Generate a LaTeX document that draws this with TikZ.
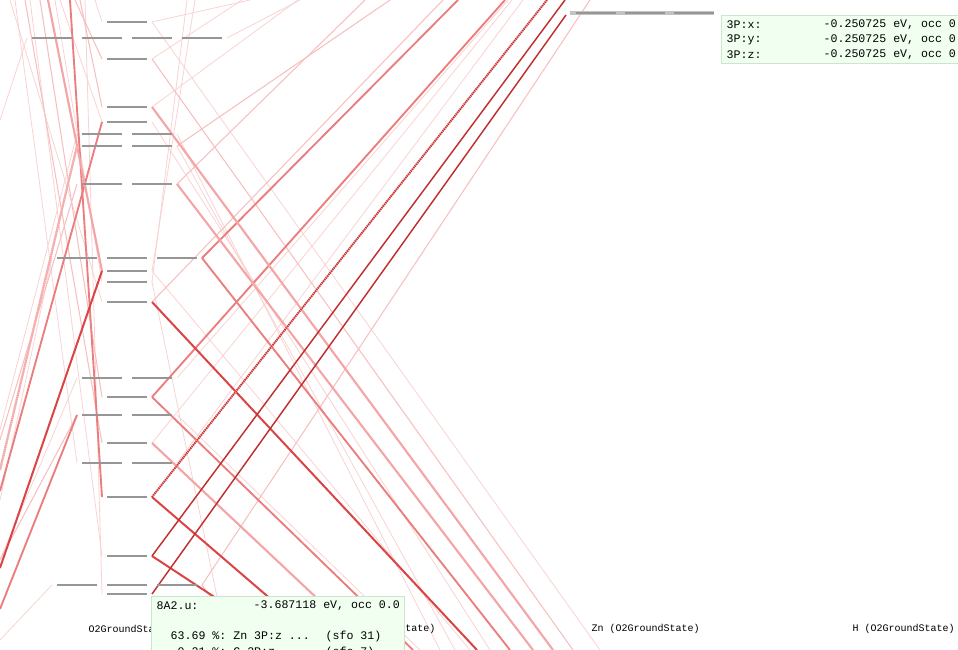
\documentclass[tikz,border=0pt]{standalone}
\usepackage[dvipsnames]{xcolor}
\usepackage{fontspec}
\setmonofont{Liberation Mono}
\usepackage{tikz}

\definecolor{lvgray}{RGB}{150,150,150}
\definecolor{lvsel}{RGB}{195,195,195}
\definecolor{tipfill}{RGB}{240,255,240}
\definecolor{tipedge}{RGB}{205,228,205}
\definecolor{lnstrong}{RGB}{218,68,68}
\definecolor{lndark}{RGB}{192,48,48}
\definecolor{lnmid}{RGB}{236,125,125}
\definecolor{lnpink}{RGB}{244,165,165}
\definecolor{lnlight}{RGB}{247,192,192}
\definecolor{lnfaint}{RGB}{249,210,210}

\begin{document}
\begin{tikzpicture}[x=0.75pt, y=-0.75pt, line width=1pt,
    level/.style={draw=lvgray, line width=1.5pt},
    cstrong/.style={draw=lnstrong, line width=1.5pt},
    cdark/.style={draw=lndark, line width=1.1pt},
    cmid/.style={draw=lnmid, line width=1.4pt},
    cpink/.style={draw=lnpink, line width=1.6pt},
    clight/.style={draw=lnlight, line width=0.8pt},
    cfaint/.style={draw=lnfaint, line width=0.6pt},
    tiptext/.style={anchor=west, inner sep=0pt, font=\fontsize{8.7}{10}\selectfont\ttfamily},
    lbltext/.style={inner sep=0pt, font=\fontsize{7.5}{9}\selectfont\ttfamily}]
    \useasboundingbox (0,0) rectangle (958,650);
    \clip (0,0) rectangle (958,650);

    % level ends: L = left end, R = right end
    \foreach \y in {22,59,107,122,271,282,302,397,443,497,556,594} {
        \coordinate (L\y) at (102,\y);
        \coordinate (R\y) at (152,\y);
    }
    \foreach \y in {134,146,184,378,415,463} {
        \coordinate (L\y) at (77,\y);
        \coordinate (R\y) at (177,\y);
    }
    \foreach \y in {258,585} {
        \coordinate (L\y) at (52,\y);
        \coordinate (R\y) at (202,\y);
    }
    \coordinate (L38) at (27,38);
    \coordinate (R38) at (227,38);
    \coordinate (zn3p) at (566,15);

    % faint lines
    \foreach \a/\fx/\fy in {R271/195/0, R282/187/0, R282/228/650, R378/508/0, R463/523/0, R443/512/0,
            R59/242/0, R107/298/0, R146/455/650, R134/440/650, R122/490/650, R22/600/650,
            R415/420/650, R271/470/650, R38/300/0, R22/250/0,
            L22/95/0, L556/30/0, L302/10/0, L282/55/0, L594/85/0, L134/0/430,
            L463/15/0, L258/0/500, L38/0/120, L378/0/560, L585/0/640, L122/60/0} {
        \coordinate (far) at (\fx,\fy);
        \draw[cfaint] (\a) -- (far);
    }
    % light lines
    \foreach \a/\fx/\fy in {R585/590/0, R302/443/0, R184/365/0, R146/390/0, R585/250/650, R59/573/650,
            L443/25/0, L59/75/0, L107/80/0, L397/40/0, L184/0/440, L415/0/560} {
        \coordinate (far) at (\fx,\fy);
        \draw[clight] (\a) -- (far);
    }
    % medium lines
    \foreach \a/\fx/\fy in {R397/505/0, R258/458/0, R397/413/650, R258/510/650,
            L497/70/0, L122/0/491, L415/0/609} {
        \coordinate (far) at (\fx,\fy);
        \draw[cmid] (\a) -- (far);
    }
    % pink thick lines
    \foreach \a/\fx/\fy in {R443/372/650, R184/533/650, R107/553/650, L271/48/0} {
        \coordinate (far) at (\fx,\fy);
        \draw[cpink] (\a) -- (far);
    }
    % strong red lines
    \foreach \a/\fx/\fy in {R302/477/650, R497/330/650, R556/295/650, L271/0/568} {
        \coordinate (far) at (\fx,\fy);
        \draw[cstrong] (\a) -- (far);
    }
    % dark red lines
    \coordinate (far) at (565,0);
    \draw[cdark] (R556) -- (far);
    \draw[cdark] (R594) -- (zn3p);
    % hatched lines
    \coordinate (far) at (547,0);
    \draw[draw=lnpink, line width=1.4pt] (R497) -- (far);
    \draw[draw=lndark, line width=1.4pt, dash pattern=on 0.8pt off 0.8pt] (R497) -- (far);
    \coordinate (far) at (0,470);
    \draw[draw=lnlight, line width=1.6pt] (L146) -- (far);
    \draw[draw=lnpink, line width=1.6pt, dash pattern=on 0.8pt off 0.8pt] (L146) -- (far);

    % levels
    \foreach \y in {22,59,107,122,271,282,302,397,443,497,556,594}
        \draw[level] (107,\y) -- (147,\y);
    \foreach \y in {134,146,184,378,415,463} {
        \draw[level] (82,\y) -- (122,\y);
        \draw[level] (132,\y) -- (172,\y);
    }
    \foreach \y in {258,585} {
        \draw[level] (57,\y) -- (97,\y);
        \draw[level] (107,\y) -- (147,\y);
        \draw[level] (157,\y) -- (197,\y);
    }
    \foreach \x in {32,82,132,182}
        \draw[level] (\x,38) -- (\x+40,38);
    \draw[draw=lvsel, line width=3pt] (570,13) -- (714,13);
    \foreach \x in {576,625,674}
        \draw[level] (\x,13) -- (\x+40,13);

    % fragment labels
    \node[lbltext, anchor=west] (lbmol) at (88,629) {O2GroundState};
    \node[lbltext, anchor=east] (lbfrag) at (436,629) {State)};
    \node[lbltext, anchor=west] (lbzn) at (591,629) {Zn (O2GroundState)};
    \node[lbltext, anchor=west] (lbh) at (852,629) {H (O2GroundState)};

    % tooltips
    \filldraw[fill=tipfill, draw=tipedge, line width=0.75pt] (721,15) rectangle (975,63);
    \node[tiptext] (px) at (726,25) {3P:x:};
    \node[tiptext] (py) at (726,40) {3P:y:};
    \node[tiptext] (pz) at (726,55) {3P:z:};
    \node[tiptext] (ex) at (823,25) {-0.250725 eV, occ 0};
    \node[tiptext] (ey) at (823,40) {-0.250725 eV, occ 0};
    \node[tiptext] (ez) at (823,55) {-0.250725 eV, occ 0};

    \filldraw[fill=tipfill, draw=tipedge, line width=0.75pt] (151,596) rectangle (404,670);
    \node[tiptext] (orb) at (156,606) {8A2.u:};
    \node[tiptext] (orbe) at (253,606) {-3.687118 eV, occ 0.0};
    \node[tiptext] (sfa) at (170,636) {63.69 \%: Zn 3P:z ...};
    \node[tiptext] (sfan) at (325,636) {(sfo 31)};
    \node[tiptext] (sfb) at (177,652) {0.21 \%: C 2P:z ...};
    \node[tiptext] (sfbn) at (325,652) {(sfo 7)};
\end{tikzpicture}
\end{document}
